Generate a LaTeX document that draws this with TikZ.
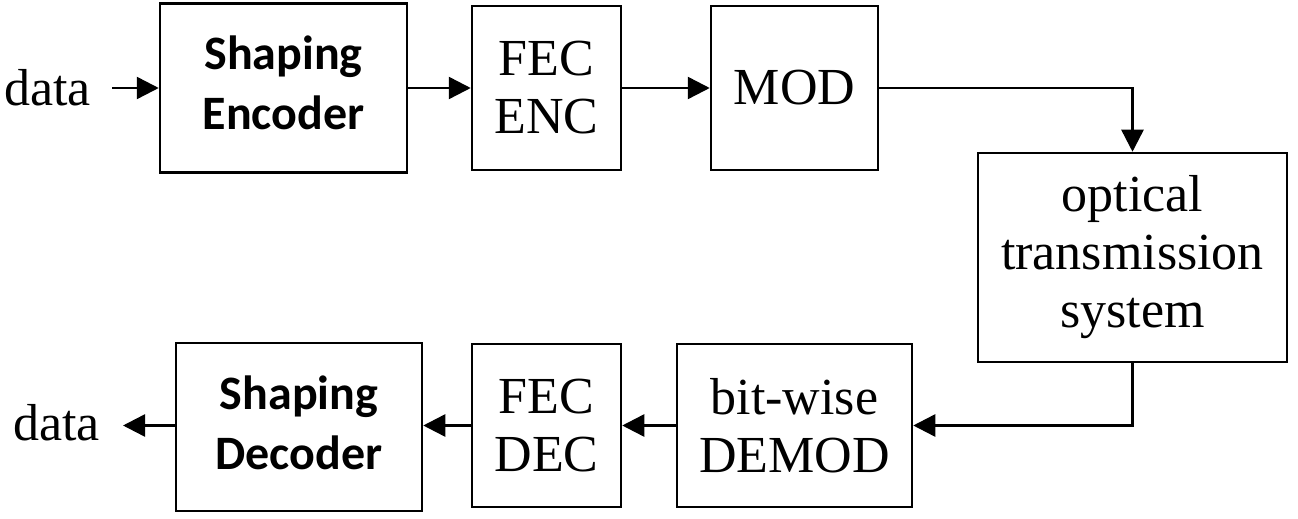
\documentclass[tikz,border=0pt]{standalone}
\usepackage{fontspec}
\setmainfont{Liberation Serif}
\newfontfamily\shapefont{Carlito}
\usetikzlibrary{arrows.meta}
\newcommand{\twolines}[2]{\raisebox{3.5pt}{\begin{tabular}{@{}c@{}}#1\\#2\end{tabular}}}
\begin{document}
\begin{tikzpicture}[x=0.5pt,y=-0.5pt,
  box/.style={draw,line width=1.25pt,align=center,inner sep=0pt,
    font=\fontsize{26pt}{29pt}\selectfont},
  sbox/.style={box,font=\shapefont\bfseries\fontsize{24pt}{30pt}\selectfont},
  lbl/.style={font=\fontsize{26pt}{29pt}\selectfont,inner sep=0pt,anchor=base},
  arr/.style={line width=1.25pt,-{Triangle[length=11pt,width=11pt]}}]
\useasboundingbox (0,0) rectangle (1298,519);
\node[sbox,minimum width=123.5pt,minimum height=84.5pt] (senc) at (283.5,88) {\twolines{Shaping}{Encoder}};
\node[box,minimum width=74.5pt,minimum height=82pt] (fenc) at (546.5,88) {FEC\\ENC};
\node[box,minimum width=83.5pt,minimum height=82pt] (mod) at (794.5,88) {MOD};
\node[box,minimum width=154.5pt,minimum height=104.5pt] (opt) at (1132.5,257.5) {optical\\transmission\\system};
\node[box,minimum width=117.5pt,minimum height=81.5pt] (demod) at (794.5,425.5) {bit-wise\\DEMOD};
\node[box,minimum width=74.5pt,minimum height=81.5pt] (fdec) at (546.5,425.5) {FEC\\DEC};
\node[sbox,minimum width=123pt,minimum height=84pt] (sdec) at (299,427) {\twolines{Shaping}{Decoder}};
\node[lbl] (din) at (47.5,106) {data};
\node[lbl] (dout) at (56.5,440) {data};
\coordinate (dinA) at (112,88);
\coordinate (doutA) at (123,425.5);
\draw[arr] (dinA) -- (dinA -| senc.west);
\draw[arr] (senc.east) -- (fenc.west);
\draw[arr] (fenc.east) -- (mod.west);
\draw[arr] (mod.east) -| (opt.north);
\draw[arr] (opt.south) |- (demod.east);
\draw[arr] (demod.west) -- (fdec.east);
\draw[arr] (fdec.west) -- (fdec.west -| sdec.east);
\draw[arr] (doutA -| sdec.west) -- (doutA);
\end{tikzpicture}
\end{document}
